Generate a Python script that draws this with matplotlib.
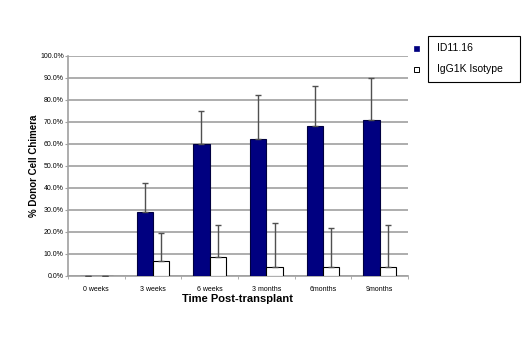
import matplotlib
matplotlib.use('Agg')
import matplotlib.pyplot as plt
import numpy as np
from matplotlib.patches import Rectangle

plt.rcParams['font.family'] = ['Liberation Sans', 'DejaVu Sans']

#values (percent)
timepoints = ['0 weeks', '3 weeks', '6 weeks', '3 months', '6months', '9months']
id1116 = [0.0, 29.2, 60.1, 62.1, 68.2, 70.9]
id1116_err = [0.0, 13.2, 15.0, 20.2, 18.0, 18.9]
igg = [0.0, 6.7, 8.8, 4.1, 4.1, 4.1]
igg_err = [0.0, 12.8, 14.2, 19.9, 17.9, 19.1]
yticks = np.arange(0, 101, 10)

fig = plt.figure(figsize=(5.3, 3.38), dpi=100)
ax = fig.add_axes([68/530, 1-276/338, 340/530, 220/338])

x = np.arange(len(timepoints))
w = 0.29
ax.bar(x - w/2, id1116, w, color='#000080', edgecolor='#000040', linewidth=0.8, zorder=3)
ax.bar(x + w/2, igg, w, color='white', edgecolor='black', linewidth=0.8, zorder=3)
#only the upper half of the error bars is shown
ax.errorbar(x - w/2, id1116, yerr=[np.zeros(len(x)), id1116_err], fmt='none',
            ecolor='#505050', elinewidth=1, capsize=2, capthick=1, zorder=4)
ax.errorbar(x + w/2, igg, yerr=[np.zeros(len(x)), igg_err], fmt='none',
            ecolor='#505050', elinewidth=1, capsize=2, capthick=1, zorder=4)

ax.set_xlim(-0.5, len(x) - 0.5)
ax.set_ylim(0, 100)
ax.set_yticks(yticks)
ax.set_yticklabels([f'{v:.1f}%' for v in yticks], fontsize=5)
ax.yaxis.grid(True, color='#a0a0a0', linewidth=1.2, zorder=0)
ax.set_xticks(x)
ax.set_xticklabels(timepoints, fontsize=5)
ax.tick_params(axis='x', length=0, pad=7)
ax.set_xticks(np.arange(-0.5, len(x)), minor=True)
ax.tick_params(axis='x', which='minor', length=2, color='#a0a0a0')
ax.tick_params(axis='y', length=2, color='#a0a0a0', pad=1)
for s in ['top', 'right']:
    ax.spines[s].set_visible(False)
ax.spines['left'].set_color('#a0a0a0')
ax.spines['bottom'].set_color('#a0a0a0')
ax.spines['left'].set_linewidth(1.2)
ax.spines['bottom'].set_linewidth(1.2)

ax.set_xlabel('Time Post-transplant', fontsize=8, fontweight='bold', labelpad=1)
ax.set_ylabel('% Donor Cell Chimera', fontsize=7, fontweight='bold', labelpad=1)

#legend drawn by hand: markers sit outside the box
fig.patches.append(Rectangle((428/530, 1-82/338), 92/530, 46/338, transform=fig.transFigure,
                             fill=False, edgecolor='black', linewidth=0.8))
fig.patches.append(Rectangle((414/530, 1-51/338), 5/530, 5/338, transform=fig.transFigure,
                             facecolor='#000080', edgecolor='#000080', linewidth=0.5))
fig.patches.append(Rectangle((414/530, 1-72/338), 5/530, 5/338, transform=fig.transFigure,
                             facecolor='white', edgecolor='black', linewidth=0.7))
fig.text(437/530, 1-48/338, 'ID11.16', fontsize=7.5, va='center')
fig.text(437/530, 1-69/338, 'IgG1K Isotype', fontsize=7.5, va='center')

fig.savefig('out.png', dpi=100)
